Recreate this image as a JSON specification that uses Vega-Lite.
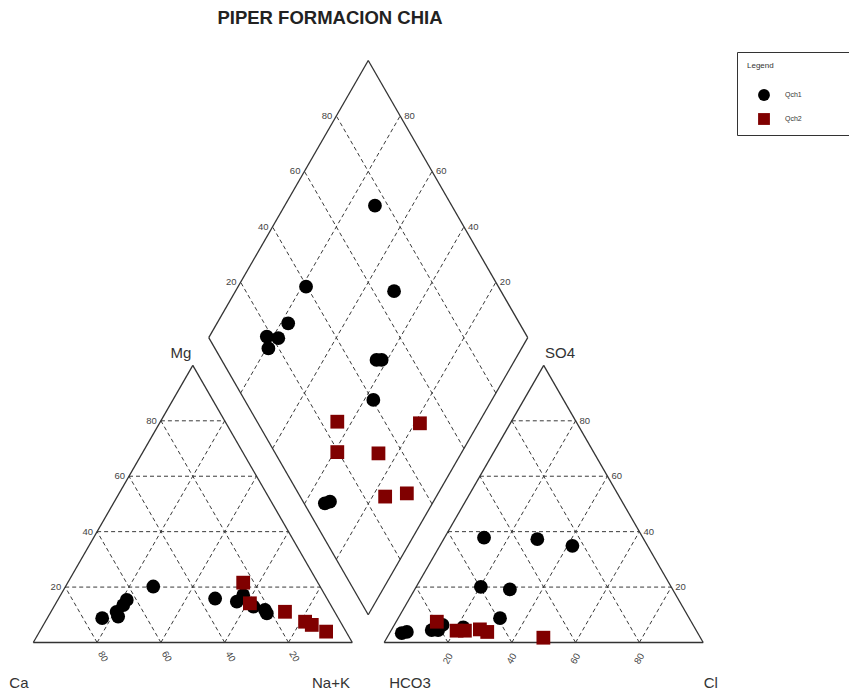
{
  "$schema": "https://vega.github.io/schema/vega-lite/v6.json",
  "width": 849,
  "height": 693,
  "autosize": {"type": "fit", "contains": "padding"},
  "padding": 0,
  "background": "white",
  "config": {"view": {"stroke": null}, "font": "Liberation Sans"},
  "datasets": {
    "segments": [
      {"kind": "outline", "x": 0, "y": 0, "x2": 100, "y2": 0},
      {"kind": "outline", "x": 100, "y": 0, "x2": 50, "y2": 86.603},
      {"kind": "outline", "x": 50, "y": 86.603, "x2": 0, "y2": 0},
      {"kind": "outline", "x": 110, "y": 0, "x2": 210, "y2": 0},
      {"kind": "outline", "x": 210, "y": 0, "x2": 160, "y2": 86.603},
      {"kind": "outline", "x": 160, "y": 86.603, "x2": 110, "y2": 0},
      {"kind": "outline", "x": 105, "y": 8.66, "x2": 55, "y2": 95.263},
      {"kind": "outline", "x": 55, "y": 95.263, "x2": 105, "y2": 181.866},
      {"kind": "outline", "x": 105, "y": 181.866, "x2": 155, "y2": 95.263},
      {"kind": "outline", "x": 155, "y": 95.263, "x2": 105, "y2": 8.66},
      {"kind": "grid", "x": 10, "y": 17.32, "x2": 90, "y2": 17.32},
      {"kind": "grid", "x": 20, "y": 34.64, "x2": 80, "y2": 34.64},
      {"kind": "grid", "x": 30, "y": 51.96, "x2": 70, "y2": 51.96},
      {"kind": "grid", "x": 40, "y": 69.28, "x2": 60, "y2": 69.28},
      {"kind": "grid", "x": 80, "y": 0, "x2": 40, "y2": 69.28},
      {"kind": "grid", "x": 60, "y": 0, "x2": 30, "y2": 51.96},
      {"kind": "grid", "x": 40, "y": 0, "x2": 20, "y2": 34.64},
      {"kind": "grid", "x": 20, "y": 0, "x2": 10, "y2": 17.32},
      {"kind": "grid", "x": 20, "y": 0, "x2": 60, "y2": 69.28},
      {"kind": "grid", "x": 40, "y": 0, "x2": 70, "y2": 51.96},
      {"kind": "grid", "x": 60, "y": 0, "x2": 80, "y2": 34.64},
      {"kind": "grid", "x": 80, "y": 0, "x2": 90, "y2": 17.32},
      {"kind": "grid", "x": 120, "y": 17.32, "x2": 200, "y2": 17.32},
      {"kind": "grid", "x": 130, "y": 34.64, "x2": 190, "y2": 34.64},
      {"kind": "grid", "x": 140, "y": 51.96, "x2": 180, "y2": 51.96},
      {"kind": "grid", "x": 150, "y": 69.28, "x2": 170, "y2": 69.28},
      {"kind": "grid", "x": 190, "y": 0, "x2": 150, "y2": 69.28},
      {"kind": "grid", "x": 170, "y": 0, "x2": 140, "y2": 51.96},
      {"kind": "grid", "x": 150, "y": 0, "x2": 130, "y2": 34.64},
      {"kind": "grid", "x": 130, "y": 0, "x2": 120, "y2": 17.32},
      {"kind": "grid", "x": 130, "y": 0, "x2": 170, "y2": 69.28},
      {"kind": "grid", "x": 150, "y": 0, "x2": 180, "y2": 51.96},
      {"kind": "grid", "x": 170, "y": 0, "x2": 190, "y2": 34.64},
      {"kind": "grid", "x": 190, "y": 0, "x2": 200, "y2": 17.32},
      {"kind": "grid", "x": 115, "y": 25.98, "x2": 65, "y2": 112.58},
      {"kind": "grid", "x": 125, "y": 43.3, "x2": 75, "y2": 129.9},
      {"kind": "grid", "x": 135, "y": 60.62, "x2": 85, "y2": 147.22},
      {"kind": "grid", "x": 145, "y": 77.94, "x2": 95, "y2": 164.55},
      {"kind": "grid", "x": 95, "y": 25.98, "x2": 145, "y2": 112.58},
      {"kind": "grid", "x": 85, "y": 43.3, "x2": 135, "y2": 129.9},
      {"kind": "grid", "x": 75, "y": 60.62, "x2": 125, "y2": 147.22},
      {"kind": "grid", "x": 65, "y": 77.94, "x2": 115, "y2": 164.55}
    ],
    "ticks": [
      {"side": "left", "x": 10, "y": 17.32, "text": "20"},
      {"side": "left", "x": 20, "y": 34.64, "text": "40"},
      {"side": "left", "x": 30, "y": 51.96, "text": "60"},
      {"side": "left", "x": 40, "y": 69.28, "text": "80"},
      {"side": "left", "x": 65, "y": 112.58, "text": "20"},
      {"side": "left", "x": 75, "y": 129.9, "text": "40"},
      {"side": "left", "x": 85, "y": 147.22, "text": "60"},
      {"side": "left", "x": 95, "y": 164.55, "text": "80"},
      {"side": "right", "x": 145, "y": 112.58, "text": "20"},
      {"side": "right", "x": 135, "y": 129.9, "text": "40"},
      {"side": "right", "x": 125, "y": 147.22, "text": "60"},
      {"side": "right", "x": 115, "y": 164.55, "text": "80"},
      {"side": "right", "x": 200, "y": 17.32, "text": "20"},
      {"side": "right", "x": 190, "y": 34.64, "text": "40"},
      {"side": "right", "x": 180, "y": 51.96, "text": "60"},
      {"side": "right", "x": 170, "y": 69.28, "text": "80"},
      {"side": "baseL", "x": 20, "y": 0, "text": "80"},
      {"side": "baseL", "x": 40, "y": 0, "text": "60"},
      {"side": "baseL", "x": 60, "y": 0, "text": "40"},
      {"side": "baseL", "x": 80, "y": 0, "text": "20"},
      {"side": "baseR", "x": 130, "y": 0, "text": "20"},
      {"side": "baseR", "x": 150, "y": 0, "text": "40"},
      {"side": "baseR", "x": 170, "y": 0, "text": "60"},
      {"side": "baseR", "x": 190, "y": 0, "text": "80"}
    ],
    "names": [
      {"x": -4.5, "y": -12.7, "text": "Ca"},
      {"x": 93.3, "y": -12.7, "text": "Na+K"},
      {"x": 118.1, "y": -12.7, "text": "HCO3"},
      {"x": 212.4, "y": -12.7, "text": "Cl"},
      {"x": 46.3, "y": 90.5, "text": "Mg"},
      {"x": 165.1, "y": 90.5, "text": "SO4"}
    ],
    "heading": [
      {"x": 93.0, "y": 195.0, "text": "PIPER FORMACION CHIA"}
    ],
    "samples": [
      {"group": "Qch1", "x": 21.6, "y": 7.6},
      {"group": "Qch1", "x": 26.1, "y": 9.6},
      {"group": "Qch1", "x": 26.6, "y": 8.1},
      {"group": "Qch1", "x": 28.2, "y": 11.7},
      {"group": "Qch1", "x": 29.3, "y": 13.3},
      {"group": "Qch1", "x": 37.6, "y": 17.5},
      {"group": "Qch1", "x": 57.0, "y": 13.75},
      {"group": "Qch1", "x": 63.8, "y": 12.75},
      {"group": "Qch1", "x": 65.8, "y": 14.8},
      {"group": "Qch1", "x": 69.0, "y": 11.2},
      {"group": "Qch1", "x": 72.6, "y": 10.2},
      {"group": "Qch1", "x": 73.2, "y": 9.1},
      {"group": "Qch1", "x": 141.3, "y": 32.75},
      {"group": "Qch1", "x": 158.0, "y": 32.3},
      {"group": "Qch1", "x": 169.0, "y": 30.2},
      {"group": "Qch1", "x": 140.3, "y": 17.4},
      {"group": "Qch1", "x": 149.4, "y": 16.6},
      {"group": "Qch1", "x": 146.3, "y": 7.6},
      {"group": "Qch1", "x": 115.5, "y": 2.9},
      {"group": "Qch1", "x": 117.1, "y": 3.3},
      {"group": "Qch1", "x": 124.9, "y": 3.9},
      {"group": "Qch1", "x": 126.9, "y": 3.9},
      {"group": "Qch1", "x": 128.3, "y": 5.5},
      {"group": "Qch1", "x": 134.8, "y": 4.7},
      {"group": "Qch1", "x": 107.1, "y": 136.5},
      {"group": "Qch1", "x": 85.5, "y": 111.2},
      {"group": "Qch1", "x": 113.1, "y": 109.8},
      {"group": "Qch1", "x": 79.9, "y": 99.75},
      {"group": "Qch1", "x": 73.2, "y": 95.6},
      {"group": "Qch1", "x": 76.8, "y": 95.1},
      {"group": "Qch1", "x": 73.7, "y": 91.9},
      {"group": "Qch1", "x": 107.6, "y": 88.3},
      {"group": "Qch1", "x": 109.2, "y": 88.3},
      {"group": "Qch1", "x": 106.6, "y": 75.8},
      {"group": "Qch1", "x": 91.4, "y": 43.5},
      {"group": "Qch1", "x": 93.0, "y": 44.0},
      {"group": "Qch2", "x": 65.8, "y": 18.7},
      {"group": "Qch2", "x": 67.9, "y": 12.25},
      {"group": "Qch2", "x": 78.9, "y": 9.6},
      {"group": "Qch2", "x": 85.2, "y": 6.5},
      {"group": "Qch2", "x": 87.3, "y": 5.5},
      {"group": "Qch2", "x": 91.8, "y": 3.4},
      {"group": "Qch2", "x": 126.5, "y": 6.5},
      {"group": "Qch2", "x": 132.7, "y": 3.7},
      {"group": "Qch2", "x": 135.3, "y": 3.7},
      {"group": "Qch2", "x": 140.0, "y": 4.1},
      {"group": "Qch2", "x": 142.3, "y": 3.3},
      {"group": "Qch2", "x": 159.9, "y": 1.5},
      {"group": "Qch2", "x": 95.3, "y": 69.0},
      {"group": "Qch2", "x": 121.2, "y": 68.5},
      {"group": "Qch2", "x": 95.3, "y": 59.5},
      {"group": "Qch2", "x": 108.2, "y": 59.1},
      {"group": "Qch2", "x": 110.3, "y": 45.6},
      {"group": "Qch2", "x": 117.1, "y": 46.6}
    ]
  },
  "layer": [
    {
      "data": {"name": "segments"},
      "transform": [{"filter": "datum.kind === 'grid'"}],
      "mark": {"type": "rule", "color": "#3a3a3a", "strokeWidth": 1, "strokeDash": [4, 3]},
      "encoding": {
        "x": {"field": "x", "type": "quantitative", "scale": {"domain": [-10.44, 255.71], "nice": false, "zero": false}, "axis": null},
        "y": {"field": "y", "type": "quantitative", "scale": {"domain": [-15.78, 200.78], "nice": false, "zero": false}, "axis": null},
        "x2": {"field": "x2"},
        "y2": {"field": "y2"}
      }
    },
    {
      "data": {"name": "segments"},
      "transform": [{"filter": "datum.kind === 'outline'"}],
      "mark": {"type": "rule", "color": "#333", "strokeWidth": 1.3},
      "encoding": {
        "x": {"field": "x", "type": "quantitative", "axis": null},
        "y": {"field": "y", "type": "quantitative", "axis": null},
        "x2": {"field": "x2"},
        "y2": {"field": "y2"}
      }
    },
    {
      "data": {"name": "ticks"},
      "transform": [{"filter": "datum.side === 'left'"}],
      "mark": {"type": "text", "align": "right", "baseline": "middle", "dx": -4, "fontSize": 9.5, "color": "#444"},
      "encoding": {
        "x": {"field": "x", "type": "quantitative", "axis": null},
        "y": {"field": "y", "type": "quantitative", "axis": null},
        "text": {"field": "text"}
      }
    },
    {
      "data": {"name": "ticks"},
      "transform": [{"filter": "datum.side === 'right'"}],
      "mark": {"type": "text", "align": "left", "baseline": "middle", "dx": 4, "fontSize": 9.5, "color": "#444"},
      "encoding": {
        "x": {"field": "x", "type": "quantitative", "axis": null},
        "y": {"field": "y", "type": "quantitative", "axis": null},
        "text": {"field": "text"}
      }
    },
    {
      "data": {"name": "ticks"},
      "transform": [{"filter": "datum.side === 'baseL'"}],
      "mark": {"type": "text", "align": "center", "baseline": "middle", "angle": 60, "dx": 15, "dy": 2, "fontSize": 9.5, "color": "#444"},
      "encoding": {
        "x": {"field": "x", "type": "quantitative", "axis": null},
        "y": {"field": "y", "type": "quantitative", "axis": null},
        "text": {"field": "text"}
      }
    },
    {
      "data": {"name": "ticks"},
      "transform": [{"filter": "datum.side === 'baseR'"}],
      "mark": {"type": "text", "align": "center", "baseline": "middle", "angle": 300, "dx": -14, "dy": 8, "fontSize": 9.5, "color": "#444"},
      "encoding": {
        "x": {"field": "x", "type": "quantitative", "axis": null},
        "y": {"field": "y", "type": "quantitative", "axis": null},
        "text": {"field": "text"}
      }
    },
    {
      "data": {"name": "names"},
      "mark": {"type": "text", "align": "center", "baseline": "middle", "fontSize": 15, "color": "#333"},
      "encoding": {
        "x": {"field": "x", "type": "quantitative", "axis": null},
        "y": {"field": "y", "type": "quantitative", "axis": null},
        "text": {"field": "text"}
      }
    },
    {
      "data": {"name": "heading"},
      "mark": {"type": "text", "align": "center", "baseline": "middle", "fontSize": 18.5, "fontWeight": "bold", "color": "#222"},
      "encoding": {
        "x": {"field": "x", "type": "quantitative", "axis": null},
        "y": {"field": "y", "type": "quantitative", "axis": null},
        "text": {"field": "text"}
      }
    },
    {
      "data": {"name": "samples"},
      "mark": {"type": "point", "filled": true, "size": 190, "opacity": 1, "strokeWidth": 0},
      "encoding": {
        "x": {"field": "x", "type": "quantitative", "axis": null},
        "y": {"field": "y", "type": "quantitative", "axis": null},
        "color": {
          "field": "group", "type": "nominal",
          "scale": {"domain": ["Qch1", "Qch2"], "range": ["#000000", "#800000"]},
          "legend": {
            "title": "Legend", "orient": "none", "legendX": 737, "legendY": 52,
            "padding": 10, "strokeColor": "#333", "fillColor": "white",
            "titleFontSize": 8, "titleFontWeight": "normal", "titleColor": "#333", "titlePadding": 18,
            "labelFontSize": 7, "labelColor": "#333", "labelOffset": 14,
            "symbolSize": 140, "symbolOffset": 10, "rowPadding": 11,
            "labelExpr": "datum.label + '\u2003\u2003\u2003\u2003\u2007\u2800'"
          }
        },
        "shape": {
          "field": "group", "type": "nominal",
          "scale": {"domain": ["Qch1", "Qch2"], "range": ["circle", "square"]}
        }
      }
    }
  ]
}
